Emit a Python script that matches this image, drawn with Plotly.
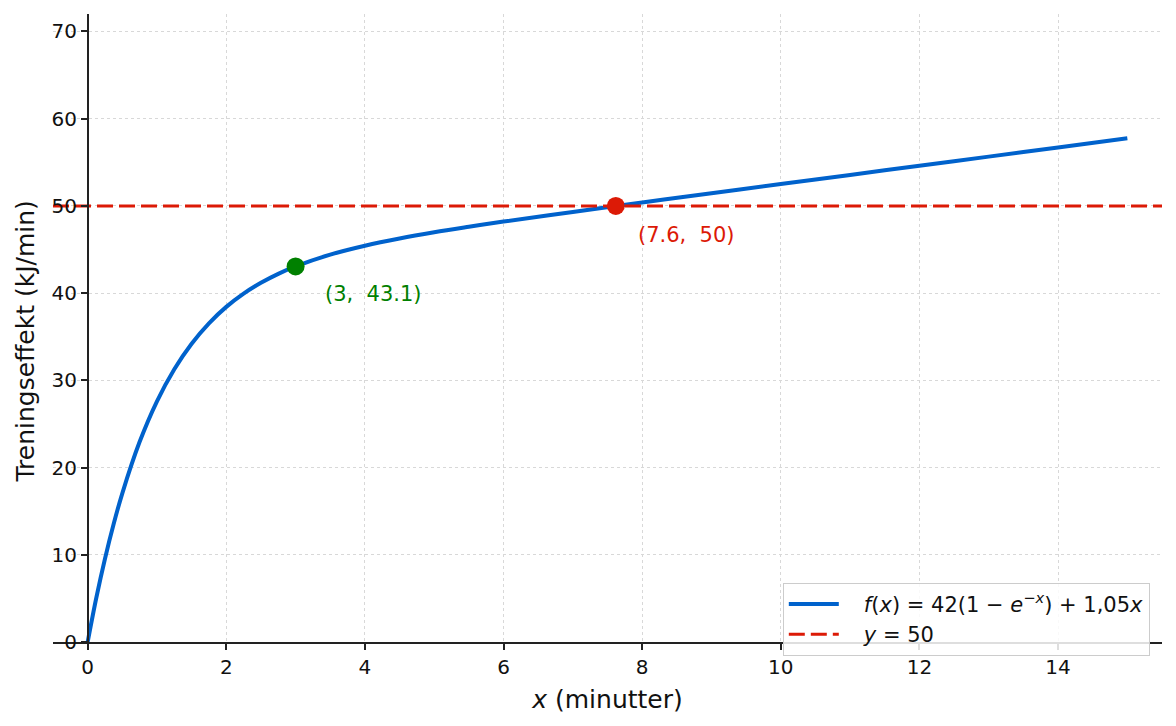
import plotly.graph_objects as go

# Values
curve_x = [0, 0.125, 0.25, 0.375, 0.5, 0.75, 1, 1.25, 1.5, 1.75, 2, 2.25, 2.5, 2.75, 3, 3.5, 4, 4.5, 5, 5.5, 6, 7, 8, 9, 10, 11, 12, 13, 14, 15]
curve_y = [0, 5.07, 9.55, 13.53, 17.05, 22.95, 27.6, 31.28, 34.2, 36.54, 38.42, 39.94, 41.18, 42.21, 43.06, 44.41, 45.43, 46.26, 46.97, 47.6, 48.2, 49.31, 50.39, 51.45, 52.5, 53.55, 54.6, 55.65, 56.7, 57.75]

hline_x = [-0.5, 15.5]
hline_y = [50, 50]

pt_green = (3, 43.06)
pt_red = (7.62, 50)
label_green = "(3,  43.1)"
label_red = "(7.6,  50)"

x_ticks = [0, 2, 4, 6, 8, 10, 12, 14]
y_ticks = [0, 10, 20, 30, 40, 50, 60, 70]

BLUE = "#0062cc"
RED = "#dc1a06"
GREEN = "#008000"
FONT = "DejaVu Sans"

fig = go.Figure()
fig.add_trace(go.Scatter(
    x=curve_x, y=curve_y, mode="lines", line=dict(color=BLUE, width=4, shape="spline", smoothing=1.0),
    name="&nbsp;&nbsp;&nbsp;<i>f</i>(<i>x</i>) = 42(1 − <i>e</i><sup>−<i>x</i></sup>) + 1,05<i>x</i>"))
fig.add_trace(go.Scatter(
    x=hline_x, y=hline_y, mode="lines", line=dict(color=RED, width=3, dash="16px,6px"),
    name="&nbsp;&nbsp;&nbsp;<i>y</i> = 50"))
fig.add_trace(go.Scatter(x=[pt_green[0]], y=[pt_green[1]], mode="markers",
                         marker=dict(color=GREEN, size=18), showlegend=False))
fig.add_trace(go.Scatter(x=[pt_red[0]], y=[pt_red[1]], mode="markers",
                         marker=dict(color=RED, size=18), showlegend=False))

fig.add_annotation(x=pt_green[0], y=pt_green[1], text=label_green, showarrow=False,
                   xanchor="left", yanchor="middle", xshift=27, yshift=-28,
                   font=dict(color=GREEN, size=21, family=FONT))
fig.add_annotation(x=pt_red[0], y=pt_red[1], text=label_red, showarrow=False,
                   xanchor="left", yanchor="middle", xshift=20, yshift=-29,
                   font=dict(color=RED, size=21, family=FONT))

# y-axis title (centred as in the reference)
fig.add_annotation(xref="paper", yref="paper", x=(25 - 53) / 1109, y=(642 - 341.5) / 628,
                   text="Treningseffekt (kJ/min)", textangle=-90, showarrow=False,
                   xanchor="center", yanchor="middle",
                   font=dict(size=25, family=FONT, color="#111111"))

fig.update_layout(
    width=1176, height=726,
    margin=dict(l=53, r=14, t=14, b=84),
    plot_bgcolor="white", paper_bgcolor="white",
    font=dict(family=FONT, size=20, color="#111111"),
    showlegend=True,
    legend=dict(x=0.989, y=-0.022, xanchor="right", yanchor="bottom",
                bgcolor="rgba(255,255,255,0.85)", bordercolor="#cccccc", borderwidth=1,
                font=dict(size=21, family=FONT), tracegroupgap=0, itemwidth=50),
    xaxis=dict(range=[-0.5, 15.5], tickvals=x_ticks, ticks="outside", ticklen=6, tickwidth=1.5,
               tickcolor="#222222", showline=True, linecolor="#222222", linewidth=1.5,
               showgrid=True, gridcolor="#d8d8d8", griddash="dot", gridwidth=1,
               zeroline=False, tickfont=dict(size=20),
               title=dict(text="<i>x</i> (minutter)", font=dict(size=25), standoff=13)),
    yaxis=dict(range=[0, 72], tickvals=y_ticks, ticks="outside", ticklen=6, tickwidth=1.5,
               tickcolor="#222222", showline=True, linecolor="#222222", linewidth=1.5,
               anchor="free", position=0.5 / 16,
               showgrid=True, gridcolor="#d8d8d8", griddash="dot", gridwidth=1,
               zeroline=False, tickfont=dict(size=20)),
)

fig.write_html("out.html")
